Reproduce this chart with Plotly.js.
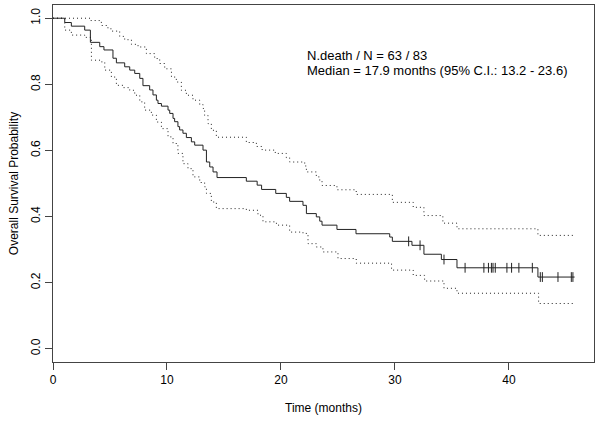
<!DOCTYPE html>
<html>
<head>
<meta charset="utf-8">
<script src="https://cdn.plot.ly/plotly-3.0.1.min.js"></script>
<style>
  html, body { margin: 0; padding: 0; background: #ffffff; }
  #chart { width: 600px; height: 422px; }
</style>
</head>
<body>
<div id="chart"></div>
<script>
// Kaplan-Meier estimate (step times in months, survival probability)
const kmTime = [0, 1.03, 1.61, 2.78, 3.28, 4.10, 4.47, 5.26, 5.56, 6.29, 6.73, 7.17, 7.61, 7.89, 8.48,
  8.77, 9.07, 9.21, 9.51, 10.09, 10.24, 10.53, 10.67, 10.96, 11.11, 11.40, 11.70, 12.14, 12.43, 13.16,
  13.46, 13.75, 14.04, 14.39, 16.96, 17.91, 18.30, 19.54, 20.47, 20.76, 21.93, 22.23, 23.10, 23.40, 23.60,
  24.91, 26.58, 29.54, 29.77, 31.49, 32.54, 34.07, 35.44, 42.54, 45.76];
const kmSurv = [1.0, 0.987, 0.976, 0.964, 0.927, 0.914, 0.904, 0.879, 0.865, 0.853, 0.843, 0.833, 0.818, 0.796, 0.783,
  0.768, 0.752, 0.742, 0.734, 0.722, 0.712, 0.697, 0.687, 0.672, 0.662, 0.652, 0.639, 0.626, 0.616, 0.601,
  0.565, 0.550, 0.535, 0.518, 0.507, 0.495, 0.482, 0.470, 0.458, 0.446, 0.434, 0.409, 0.399, 0.386, 0.374,
  0.361, 0.348, 0.338, 0.325, 0.313, 0.286, 0.270, 0.245, 0.217, 0.217];

// Censored observations
const censorTime = [31.2, 32.2, 34.3, 36.15, 37.8, 38.2, 38.46, 38.6, 38.8, 39.82, 40.23, 40.87, 42.05,
  42.75, 42.93, 44.3, 45.47, 45.61];
const censorSurv = [0.325, 0.313, 0.270, 0.245, 0.245, 0.245, 0.245, 0.245, 0.245, 0.245, 0.245, 0.245, 0.245,
  0.217, 0.217, 0.217, 0.217, 0.217];

// Upper 95% confidence limit
const upperTime = [0, 3.30, 4.24, 4.82, 5.12, 5.85, 6.29, 6.88, 7.46, 8.19, 8.92, 9.36, 9.80, 10.39, 10.82,
  11.26, 11.70, 12.28, 12.87, 13.16, 13.30, 13.60, 13.89, 14.33, 16.96, 17.84, 18.35, 19.50, 20.47, 20.76,
  22.08, 22.23, 23.10, 23.40, 23.60, 24.91, 26.60, 29.77, 31.60, 32.54, 34.20, 35.44, 42.54, 45.76];
const upperSurv = [1.0, 0.993, 0.978, 0.968, 0.961, 0.945, 0.935, 0.921, 0.913, 0.893, 0.878, 0.863, 0.847, 0.822, 0.807,
  0.782, 0.767, 0.752, 0.739, 0.727, 0.706, 0.681, 0.661, 0.640, 0.624, 0.612, 0.601, 0.591, 0.578, 0.565,
  0.553, 0.535, 0.520, 0.508, 0.494, 0.481, 0.467, 0.443, 0.428, 0.403, 0.380, 0.363, 0.343, 0.343];

// Lower 95% confidence limit
const lowerTime = [0, 1.03, 1.61, 2.78, 3.37, 4.24, 4.54, 5.12, 5.56, 6.14, 6.73, 7.17, 7.61, 8.04, 8.63,
  9.07, 9.51, 10.09, 10.53, 10.96, 11.40, 11.84, 12.28, 12.87, 13.30, 13.46, 13.89, 14.33, 16.96, 17.98,
  18.42, 19.60, 20.76, 21.93, 22.37, 23.10, 23.68, 25.00, 26.60, 29.70, 31.60, 32.60, 34.30, 35.44, 42.60, 45.76];
const lowerSurv = [1.0, 0.964, 0.949, 0.942, 0.873, 0.868, 0.843, 0.822, 0.797, 0.790, 0.782, 0.767, 0.747, 0.722, 0.707,
  0.686, 0.666, 0.641, 0.621, 0.591, 0.560, 0.545, 0.520, 0.503, 0.490, 0.470, 0.444, 0.424, 0.419, 0.404,
  0.384, 0.374, 0.353, 0.349, 0.318, 0.308, 0.293, 0.273, 0.259, 0.238, 0.222, 0.205, 0.183, 0.168, 0.137, 0.137];

const xTicks = [0, 10, 20, 30, 40];
const yTicks = [0.0, 0.2, 0.4, 0.6, 0.8, 1.0];
const yTickText = ['0.0', '0.2', '0.4', '0.6', '0.8', '1.0'];

const summaryLines = ['N.death / N = 63 / 83', 'Median = 17.9 months (95% C.I.: 13.2 - 23.6)'];

const FONT = 'Liberation Sans, Arial, Helvetica, sans-serif';
const INK = '#222222';

const traces = [
  { x: upperTime, y: upperSurv, type: 'scatter', mode: 'lines', line: { shape: 'hv', color: INK, width: 1, dash: '1px,3px' }, hoverinfo: 'skip' },
  { x: lowerTime, y: lowerSurv, type: 'scatter', mode: 'lines', line: { shape: 'hv', color: INK, width: 1, dash: '1px,3px' }, hoverinfo: 'skip' },
  { x: kmTime, y: kmSurv, type: 'scatter', mode: 'lines', line: { shape: 'hv', color: INK, width: 1 }, hoverinfo: 'skip' },
  { x: censorTime, y: censorSurv, type: 'scatter', mode: 'markers',
    marker: { symbol: 'line-ns', size: 7, color: INK, line: { color: INK, width: 1 } }, hoverinfo: 'skip' }
];

const layout = {
  width: 600, height: 422,
  margin: { l: 53, r: 6, t: 5, b: 60 },
  paper_bgcolor: '#ffffff', plot_bgcolor: '#ffffff',
  showlegend: false,
  font: { family: FONT, size: 12, color: '#000000' },
  xaxis: {
    range: [0, 47.46], tickvals: xTicks, ticks: 'outside', ticklen: 7, tickwidth: 1, tickcolor: '#444',
    showline: true, mirror: true, linecolor: '#444', linewidth: 1, showgrid: false, zeroline: false,
    tickfont: { family: FONT, size: 12, color: '#000' },
    title: { text: 'Time (months)', font: { family: FONT, size: 12, color: '#000' }, standoff: 17 }
  },
  yaxis: {
    range: [-0.04, 1.04], tickvals: yTicks, ticktext: yTickText, tickangle: -90,
    ticks: 'outside', ticklen: 7, tickwidth: 1, tickcolor: '#444',
    showline: true, mirror: true, linecolor: '#444', linewidth: 1, showgrid: false, zeroline: false,
    tickfont: { family: FONT, size: 12, color: '#000' },
    title: { text: 'Overall Survival Probability', font: { family: FONT, size: 12, color: '#000' }, standoff: 8 }
  },
  annotations: [
    { xref: 'paper', yref: 'paper', x: 0.4677, y: 0.8585, xanchor: 'left', yanchor: 'middle', showarrow: false,
      borderpad: 0, text: summaryLines[0], font: { family: FONT, size: 13, color: '#000' } },
    { xref: 'paper', yref: 'paper', x: 0.4677, y: 0.8165, xanchor: 'left', yanchor: 'middle', showarrow: false,
      borderpad: 0, text: summaryLines[1], font: { family: FONT, size: 13, color: '#000' } }
  ]
};

Plotly.newPlot('chart', traces, layout, { staticPlot: true, displayModeBar: false });
</script>
</body>
</html>
